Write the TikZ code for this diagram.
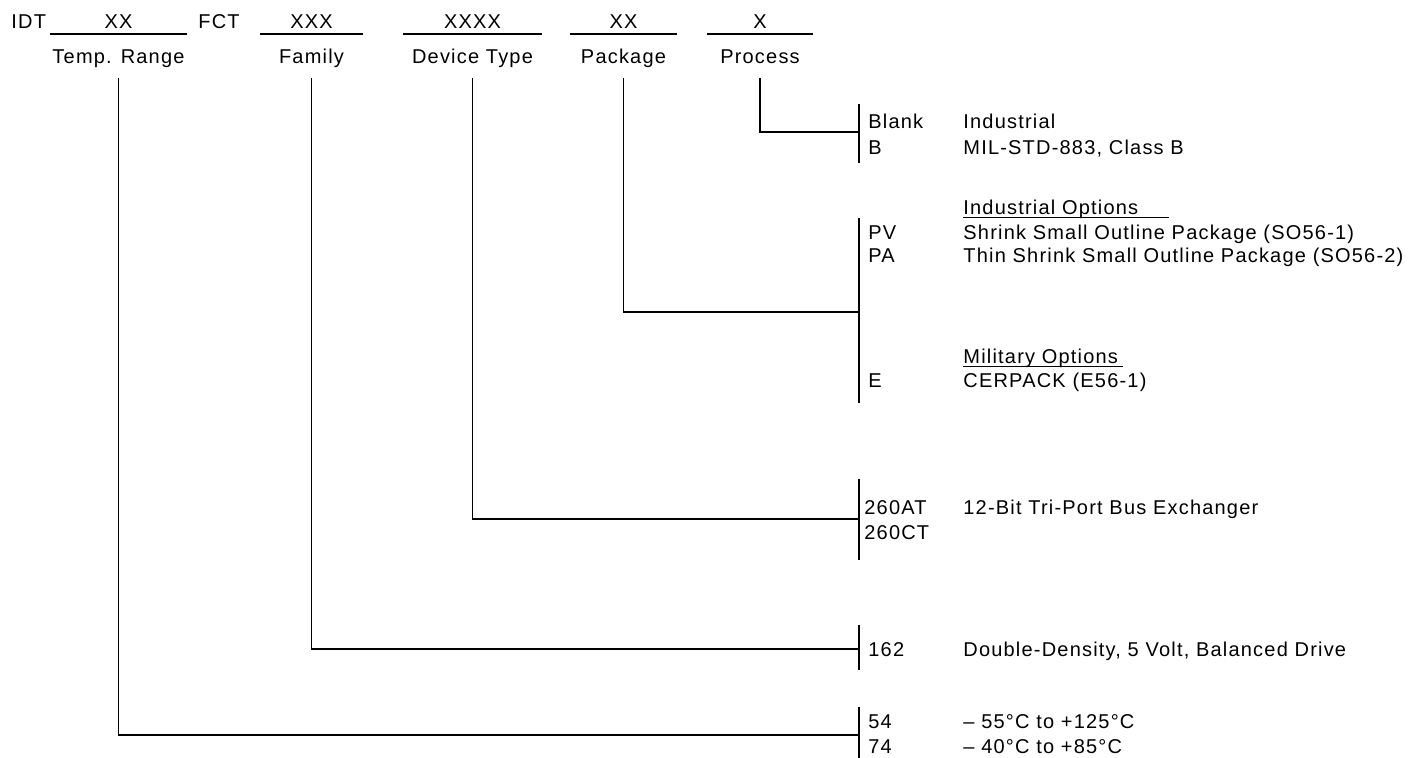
\documentclass[tikz,border=0pt]{standalone}
\usepackage{fontspec}
\setmainfont[LetterSpace=6]{Liberation Sans}
\usetikzlibrary{positioning}

\begin{document}
\begin{tikzpicture}[x=0.5pt, y=-0.5pt,
  every node/.style={font=\fontsize{10}{12}\selectfont, inner sep=0pt, text height=7.2pt, text depth=0pt},
  field/.style={inner ysep=2.9pt},
  txt/.style={anchor=west},
  uline/.style={line width=0.9pt},
  hline/.style={line width=0.6pt},
  link/.style={line width=0.7pt, shorten <=7pt},
  bar/.style={line width=1.2pt}
]
  \useasboundingbox (0,0) rectangle (1413,758);

  % Header: ordering code
  \node[txt] (idt) at (11,21) {IDT};
  \node[field, minimum width=68.5pt] (f-range) at (118.5,21) {XX};
  \node[txt] (fct) at (198,21) {FCT};
  \node[field, minimum width=51.5pt] (f-family) at (311.5,21) {XXX};
  \node[field, minimum width=69.5pt] (f-device) at (472.5,21) {XXXX};
  \node[field, minimum width=53.5pt] (f-package) at (623.5,21) {XX};
  \node[field, minimum width=53pt] (f-process) at (760,21) {X};
  \foreach \f in {range,family,device,package,process}
    \draw[uline] (f-\f.south west) -- (f-\f.south east);

  % Field names
  \node[below=7.2pt of f-range] (range) {Temp. Range};
  \node[below=7.2pt of f-family] (family) {Family};
  \node[below=7.2pt of f-device] (device) {Device Type};
  \node[below=7.2pt of f-package] (package) {Package};
  \node[below=7.2pt of f-process] (process) {Process};

  % Process
  \coordinate (proc-top) at (859,104);
  \coordinate (proc-bot) at (859,163);
  \coordinate (proc-join) at (859,132);
  \draw[bar] (proc-top) -- (proc-bot);
  \draw[link] (process.south) |- (proc-join);
  \node[txt] (c-blank) at (868,121) {Blank};
  \node[txt] (d-blank) at (963,121) {Industrial};
  \node[txt] (c-b) at (868,147) {B};
  \node[txt] (d-b) at (963,147) {MIL-STD-883, Class B};

  % Package
  \coordinate (pkg-top) at (859,218);
  \coordinate (pkg-bot) at (859,403);
  \coordinate (pkg-join) at (859,312);
  \draw[bar] (pkg-top) -- (pkg-bot);
  \draw[link] (package.south) |- (pkg-join);
  \node[txt] (h-ind) at (963,207) {Industrial Options};
  \draw[hline] ([yshift=-1.6pt]h-ind.south west) -- ([xshift=15pt,yshift=-1.6pt]h-ind.south east);
  \node[txt] (c-pv) at (868,232) {PV};
  \node[txt] (d-pv) at (963,232) {Shrink Small Outline Package (SO56-1)};
  \node[txt] (c-pa) at (868,255) {PA};
  \node[txt] (d-pa) at (963,255) {Thin Shrink Small Outline Package (SO56-2)};
  \node[txt] (h-mil) at (963,356) {Military Options};
  \draw[hline] ([yshift=-1.6pt]h-mil.south west) -- ([xshift=2.5pt,yshift=-1.6pt]h-mil.south east);
  \node[txt] (c-e) at (868,380) {E};
  \node[txt] (d-e) at (963,380) {CERPACK (E56-1)};

  % Device type
  \coordinate (dev-top) at (859,479);
  \coordinate (dev-bot) at (859,560);
  \coordinate (dev-join) at (859,519);
  \draw[bar] (dev-top) -- (dev-bot);
  \draw[link] (device.south) |- (dev-join);
  \node[txt] (c-at) at (864,507) {260AT};
  \node[txt] (d-at) at (963,507) {12-Bit Tri-Port Bus Exchanger};
  \node[txt] (c-ct) at (864,532) {260CT};

  % Family
  \coordinate (fam-top) at (859,625);
  \coordinate (fam-bot) at (859,670);
  \coordinate (fam-join) at (859,649);
  \draw[bar] (fam-top) -- (fam-bot);
  \draw[link] (family.south) |- (fam-join);
  \node[txt] (c-162) at (868,649) {162};
  \node[txt] (d-162) at (963,649) {Double-Density, 5 Volt, Balanced Drive};

  % Temp. range
  \coordinate (tmp-top) at (859,707);
  \coordinate (tmp-bot) at (859,758);
  \coordinate (tmp-join) at (859,735);
  \draw[bar] (tmp-top) -- (tmp-bot);
  \draw[link] (range.south) |- (tmp-join);
  \node[txt] (c-54) at (868,721) {54};
  \node[txt] (d-54) at (963,721) {– 55°C to +125°C};
  \node[txt] (c-74) at (868,746) {74};
  \node[txt] (d-74) at (963,746) {– 40°C to +85°C};
\end{tikzpicture}
\end{document}
